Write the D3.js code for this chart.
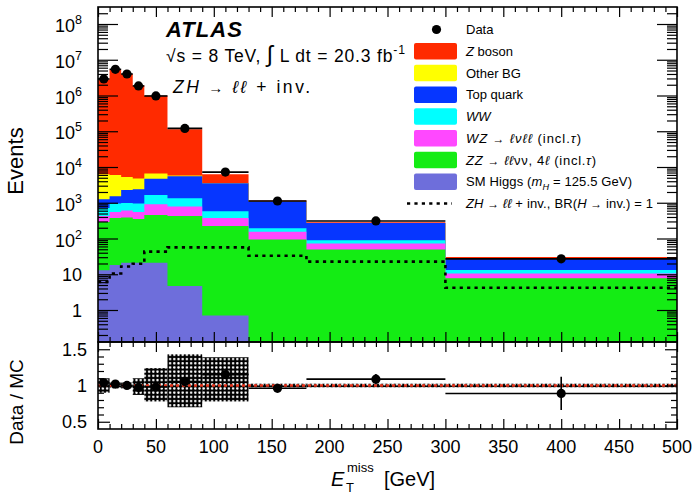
<!DOCTYPE html>
<html><head><meta charset="utf-8">
<script src="https://cdn.jsdelivr.net/npm/d3@7"></script>
<style>
body{margin:0;background:#fff;}
svg{display:block;font-family:"Liberation Sans",Arial,Helvetica,sans-serif;}
</style></head><body>
<svg id="c" width="692" height="494"></svg>
<script>
// ---------------- data ----------------
const binEdges   = [0,10,20,30,40,60,90,130,180,300,500];
const dataCounts = [2.9e6,5.4e6,4.0e6,1.85e6,9.7e5,1.2e5,7200,1120,310,27];
const smHiggs    = [13,18,21,21,21,4.7,0.7,0.08,0.05,0.02];
const zzBkg      = [277,357,364,329,434,420,224,94,49,7.7];
const wzBkg      = [135,175,220,200,455,365,150,61,23,2.7];
const wwBkg      = [285,405,375,405,740,550,200,38,17,2.7];
const topBkg     = [550,555,1295,1445,3050,4160,2925,887,181,14.9];
const otherBkg   = [5040,4490,2975,2350,1900,300,50,10,2,0.3];
const zBoson     = [2.79e6,5.29e6,3.99e6,1.895e6,9.83e5,1.08e5,2710,75,13,2];
const zhSignal   = [6.1,10.5,16.5,19.6,43,56.5,56.5,33,22.5,4.2];
const ratioErr   = [0.01,0.01,0.01,0.01,0.01,0.01,0.02,0.03,0.07,0.23];
const systUp     = [1.10,1.04,1.04,1.10,1.24,1.43,1.39,1.025,1.025,1.025];
const systDown   = [0.90,0.96,0.96,0.87,0.78,0.70,0.78,0.975,0.975,0.975];
const xTickVals  = [0,50,100,150,200,250,300,350,400,450,500];
const yTickExps  = [0,1,2,3,4,5,6,7,8];
const ratioTicks = [0.5,1,1.5];

const layers = [
  {key:"higgs", values:smHiggs,  color:"#6e6edb"},
  {key:"zz",    values:zzBkg,    color:"#14ec14"},
  {key:"wz",    values:wzBkg,    color:"#ff48ff"},
  {key:"ww",    values:wwBkg,    color:"#00ffff"},
  {key:"top",   values:topBkg,   color:"#0636ff"},
  {key:"other", values:otherBkg, color:"#ffff00"},
  {key:"z",     values:zBoson,   color:"#ff2a00"}
];

// ---------------- geometry ----------------
const L=98, R=677, T=7, MB=342, RB=429;
const svg = d3.select("#c");
const x = d3.scaleLinear().domain([0,500]).range([L,R]);
const y = d3.scaleLog().domain([Math.pow(10,(310-MB)/35.75), Math.pow(10,(310-T)/35.75)]).range([MB,T]).clamp(true);
const yr = d3.scaleLinear().domain([0.4,1.6]).range([RB,MB]);

const nb = binEdges.length-1;
const bins = d3.range(nb);

let cum = bins.map(()=>0);
layers.forEach(l=>{ cum = cum.map((c,i)=>c+l.values[i]); l.cum = cum.slice(); });
const total = cum;

const stepPts = vals => bins.flatMap(i=>[{x:binEdges[i],v:vals[i]},{x:binEdges[i+1],v:vals[i]}]);

const defs = svg.append("defs");
defs.append("clipPath").attr("id","mainclip").append("rect").attr("x",L).attr("y",T).attr("width",R-L).attr("height",MB-T);
defs.append("clipPath").attr("id","ratclip").append("rect").attr("x",L).attr("y",MB).attr("width",R-L).attr("height",RB-MB);
const pat = defs.append("pattern").attr("id","hatch").attr("patternUnits","userSpaceOnUse").attr("width",4.2).attr("height",4.2);
pat.append("rect").attr("width",4.2).attr("height",4.2).attr("fill","#000");
pat.append("circle").attr("cx",2.1).attr("cy",2.1).attr("r",1.25).attr("fill","#fff");

// ---------------- main stack ----------------
const gm = svg.append("g").attr("clip-path","url(#mainclip)");
const area = d3.area().x(d=>x(d.x)).y0(MB).y1(d=>y(d.v));
layers.slice().reverse().forEach(l=>{
  gm.append("path").attr("d",area(stepPts(l.cum))).attr("fill",l.color);
});
gm.append("path").attr("d",d3.line().x(d=>x(d.x)).y(d=>y(d.v))(stepPts(zhSignal)))
  .attr("fill","none").attr("stroke","#000").attr("stroke-width",2.6).attr("stroke-dasharray","3.2 4.2");
bins.forEach(i=>{
  const v=dataCounts[i], e=Math.sqrt(v), cx=x((binEdges[i]+binEdges[i+1])/2);
  gm.append("line").attr("x1",x(binEdges[i])).attr("x2",x(binEdges[i+1])).attr("y1",y(v)).attr("y2",y(v)).attr("stroke","#000").attr("stroke-width",1.6);
  gm.append("line").attr("x1",cx).attr("x2",cx).attr("y1",y(v+e)).attr("y2",y(v-e)).attr("stroke","#000").attr("stroke-width",1.6);
  gm.append("circle").attr("cx",cx).attr("cy",y(v)).attr("r",4.6).attr("fill","#000");
});

// ---------------- ratio ----------------
const gr = svg.append("g").attr("clip-path","url(#ratclip)");
bins.forEach(i=>{
  gr.append("rect").attr("x",x(binEdges[i])).attr("width",x(binEdges[i+1])-x(binEdges[i]))
    .attr("y",yr(systUp[i])).attr("height",yr(systDown[i])-yr(systUp[i])).attr("fill","url(#hatch)");
});
gr.append("line").attr("x1",x(0)).attr("x2",x(500)).attr("y1",yr(1)).attr("y2",yr(1))
  .attr("stroke","#e8341c").attr("stroke-width",2.4).attr("stroke-dasharray","3 3");
bins.forEach(i=>{
  const r = dataCounts[i]/total[i], cx = x((binEdges[i]+binEdges[i+1])/2);
  gr.append("line").attr("x1",x(binEdges[i])).attr("x2",x(binEdges[i+1])).attr("y1",yr(r)).attr("y2",yr(r)).attr("stroke","#000").attr("stroke-width",1.6);
  gr.append("line").attr("x1",cx).attr("x2",cx).attr("y1",yr(r+ratioErr[i])).attr("y2",yr(r-ratioErr[i])).attr("stroke","#000").attr("stroke-width",1.6);
  gr.append("circle").attr("cx",cx).attr("cy",yr(r)).attr("r",4.6).attr("fill","#000");
});

// ---------------- axes ----------------
function styleAxis(g){ g.select(".domain").remove(); g.selectAll("line").attr("stroke","#000").attr("stroke-width",1.2); g.selectAll("text").remove(); }
const xMinor = d3.range(0,501,10).filter(v=>v%50!==0);
const yMajor = yTickExps.map(e=>Math.pow(10,e));
const yMinor = [];
for(let e=-1;e<=8;e++) for(let m=2;m<=9;m++){ const v=m*Math.pow(10,e); if(v>y.domain()[0] && v<y.domain()[1]) yMinor.push(v); }
const rMinor = d3.range(0.5,1.6,0.1).map(v=>+v.toFixed(2)).filter(v=>Math.abs(v-0.5)>1e-6 && Math.abs(v-1)>1e-6 && Math.abs(v-1.5)>1e-6);

svg.append("g").attr("transform",`translate(${L},0)`).call(d3.axisLeft(y).tickValues(yMajor).tickSizeInner(-20).tickSizeOuter(0)).call(styleAxis);
svg.append("g").attr("transform",`translate(${L},0)`).call(d3.axisLeft(y).tickValues(yMinor).tickSizeInner(-10).tickSizeOuter(0)).call(styleAxis);
svg.append("g").attr("transform",`translate(${R},0)`).call(d3.axisRight(y).tickValues(yMajor).tickSizeInner(-20).tickSizeOuter(0)).call(styleAxis);
svg.append("g").attr("transform",`translate(${R},0)`).call(d3.axisRight(y).tickValues(yMinor).tickSizeInner(-10).tickSizeOuter(0)).call(styleAxis);
[[T,"top"],[MB,"bottom"],[MB,"top"],[RB,"bottom"]].forEach(([yy,side])=>{
  const mk = side==="top"? d3.axisTop : d3.axisBottom;
  svg.append("g").attr("transform",`translate(0,${yy})`).call(mk(x).tickValues(xTickVals).tickSizeInner(-10).tickSizeOuter(0)).call(styleAxis);
  svg.append("g").attr("transform",`translate(0,${yy})`).call(mk(x).tickValues(xMinor).tickSizeInner(-5).tickSizeOuter(0)).call(styleAxis);
});
svg.append("g").attr("transform",`translate(${L},0)`).call(d3.axisLeft(yr).tickValues(ratioTicks).tickSizeInner(-12).tickSizeOuter(0)).call(styleAxis);
svg.append("g").attr("transform",`translate(${L},0)`).call(d3.axisLeft(yr).tickValues(rMinor).tickSizeInner(-6).tickSizeOuter(0)).call(styleAxis);
svg.append("g").attr("transform",`translate(${R},0)`).call(d3.axisRight(yr).tickValues(ratioTicks).tickSizeInner(-12).tickSizeOuter(0)).call(styleAxis);
svg.append("g").attr("transform",`translate(${R},0)`).call(d3.axisRight(yr).tickValues(rMinor).tickSizeInner(-6).tickSizeOuter(0)).call(styleAxis);

svg.append("rect").attr("x",L).attr("y",T).attr("width",R-L).attr("height",MB-T).attr("fill","none").attr("stroke","#000").attr("stroke-width",1.6);
svg.append("rect").attr("x",L).attr("y",MB).attr("width",R-L).attr("height",RB-MB).attr("fill","none").attr("stroke","#000").attr("stroke-width",1.6);

// ---------------- tick labels ----------------
const FS=18;
yTickExps.forEach(e=>{
  const t = svg.append("text").attr("x",82).attr("text-anchor","end").attr("font-size",FS).attr("fill","#000");
  const yy = y(Math.pow(10,e));
  if(e===0){ t.attr("y",yy+6.5).text("1"); }
  else if(e===1){ t.attr("y",yy+6.5).text("10"); }
  else { t.attr("y",yy+8); t.append("tspan").text("10"); t.append("tspan").attr("font-size",12.5).attr("dy",-8).text(e); }
});
ratioTicks.forEach(v=>{
  svg.append("text").attr("x",87).attr("y",yr(v)+6.5).attr("text-anchor","end").attr("font-size",FS).text(v===1?"1":String(v));
});
xTickVals.forEach(v=>{
  svg.append("text").attr("x",x(v)).attr("y",453).attr("text-anchor","middle").attr("font-size",FS).text(v);
});

svg.append("text").attr("transform","translate(23,161) rotate(-90)").attr("text-anchor","middle").attr("font-size",22).text("Events");
svg.append("text").attr("transform","translate(23,402) rotate(-90)").attr("text-anchor","middle").attr("font-size",19).text("Data / MC");
svg.append("text").attr("x",331).attr("y",486).attr("font-size",20).attr("font-style","italic").text("E");
svg.append("text").attr("x",346).attr("y",492).attr("font-size",13).text("T");
svg.append("text").attr("x",347).attr("y",472).attr("font-size",13).text("miss");
svg.append("text").attr("x",384).attr("y",486).attr("font-size",20).text("[GeV]");

// ---------------- labels ----------------
function rich(sel, parts, size, width){
  let off=0;
  parts.forEach(p=>{
    const ts = sel.append("tspan").text(p.t);
    if(p.i) ts.attr("font-style","italic");
    const target = p.sub? size*0.3 : (p.sup? -size*0.45 : 0);
    if(target!==off){ ts.attr("dy", target-off); off=target; }
    if(p.sub||p.sup) ts.attr("font-size", size*0.7);
    if(p.s) ts.attr("font-size", p.s);
  });
  if(width) sel.attr("textLength",width).attr("lengthAdjust","spacing");
}
svg.append("text").attr("x",166).attr("y",37).attr("font-size",22).attr("font-weight","bold").attr("font-style","italic")
  .attr("textLength",76).attr("lengthAdjust","spacing").text("ATLAS");
rich(svg.append("text").attr("x",166).attr("y",62).attr("font-size",17.5),
  [{t:"√s = 8 TeV,  "},{t:"∫",s:23},{t:" L dt = 20.3 fb"},{t:"-1",sup:true}],17.5,239);
rich(svg.append("text").attr("x",173).attr("y",93).attr("font-size",17.5),
  [{t:"ZH",i:true},{t:" → ",s:15},{t:"ℓℓ",i:true},{t:" + inv."}],17.5,137);

// legend
const LX=414, LT=29.5, LS=21.75, LF=13;
const legend = svg.append("g");
const legRows = [
  {type:"data", parts:[{t:"Data"}]},
  {type:"box", color:layers[6].color, parts:[{t:"Z",i:true},{t:" boson"}]},
  {type:"box", color:layers[5].color, parts:[{t:"Other BG"}]},
  {type:"box", color:layers[4].color, parts:[{t:"Top quark"}]},
  {type:"box", color:layers[3].color, parts:[{t:"WW",i:true}]},
  {type:"box", color:layers[2].color, w:115, parts:[{t:"WZ",i:true},{t:" → ",s:12},{t:"ℓνℓℓ",i:true},{t:" (incl."},{t:"τ",i:true},{t:")"}]},
  {type:"box", color:layers[1].color, w:130, parts:[{t:"ZZ",i:true},{t:" → ",s:12},{t:"ℓℓ",i:true},{t:"νν, 4"},{t:"ℓ",i:true},{t:" (incl."},{t:"τ",i:true},{t:")"}]},
  {type:"box", color:layers[0].color, w:166, parts:[{t:"SM Higgs ("},{t:"m",i:true},{t:"H",i:true,sub:true},{t:" = 125.5 GeV)"}]},
  {type:"line", w:187, parts:[{t:"ZH",i:true},{t:" → ",s:12},{t:"ℓℓ",i:true},{t:" + inv., BR("},{t:"H",i:true},{t:" → ",s:12},{t:"inv.) = 1"}]}
];
legRows.forEach((r,k)=>{
  const cy = LT + k*LS;
  if(r.type==="data") legend.append("circle").attr("cx",436.5).attr("cy",cy).attr("r",4.6).attr("fill","#000");
  if(r.type==="box") legend.append("rect").attr("x",LX).attr("y",cy-8.3).attr("width",43).attr("height",16.6).attr("rx",2).attr("fill",r.color);
  if(r.type==="line") legend.append("line").attr("x1",407).attr("x2",452).attr("y1",cy).attr("y2",cy).attr("stroke","#000").attr("stroke-width",2.6).attr("stroke-dasharray","3.2 4.2");
  rich(legend.append("text").attr("x",466).attr("y",cy+4.6).attr("font-size",LF), r.parts, LF, r.w);
});
</script></body></html>
